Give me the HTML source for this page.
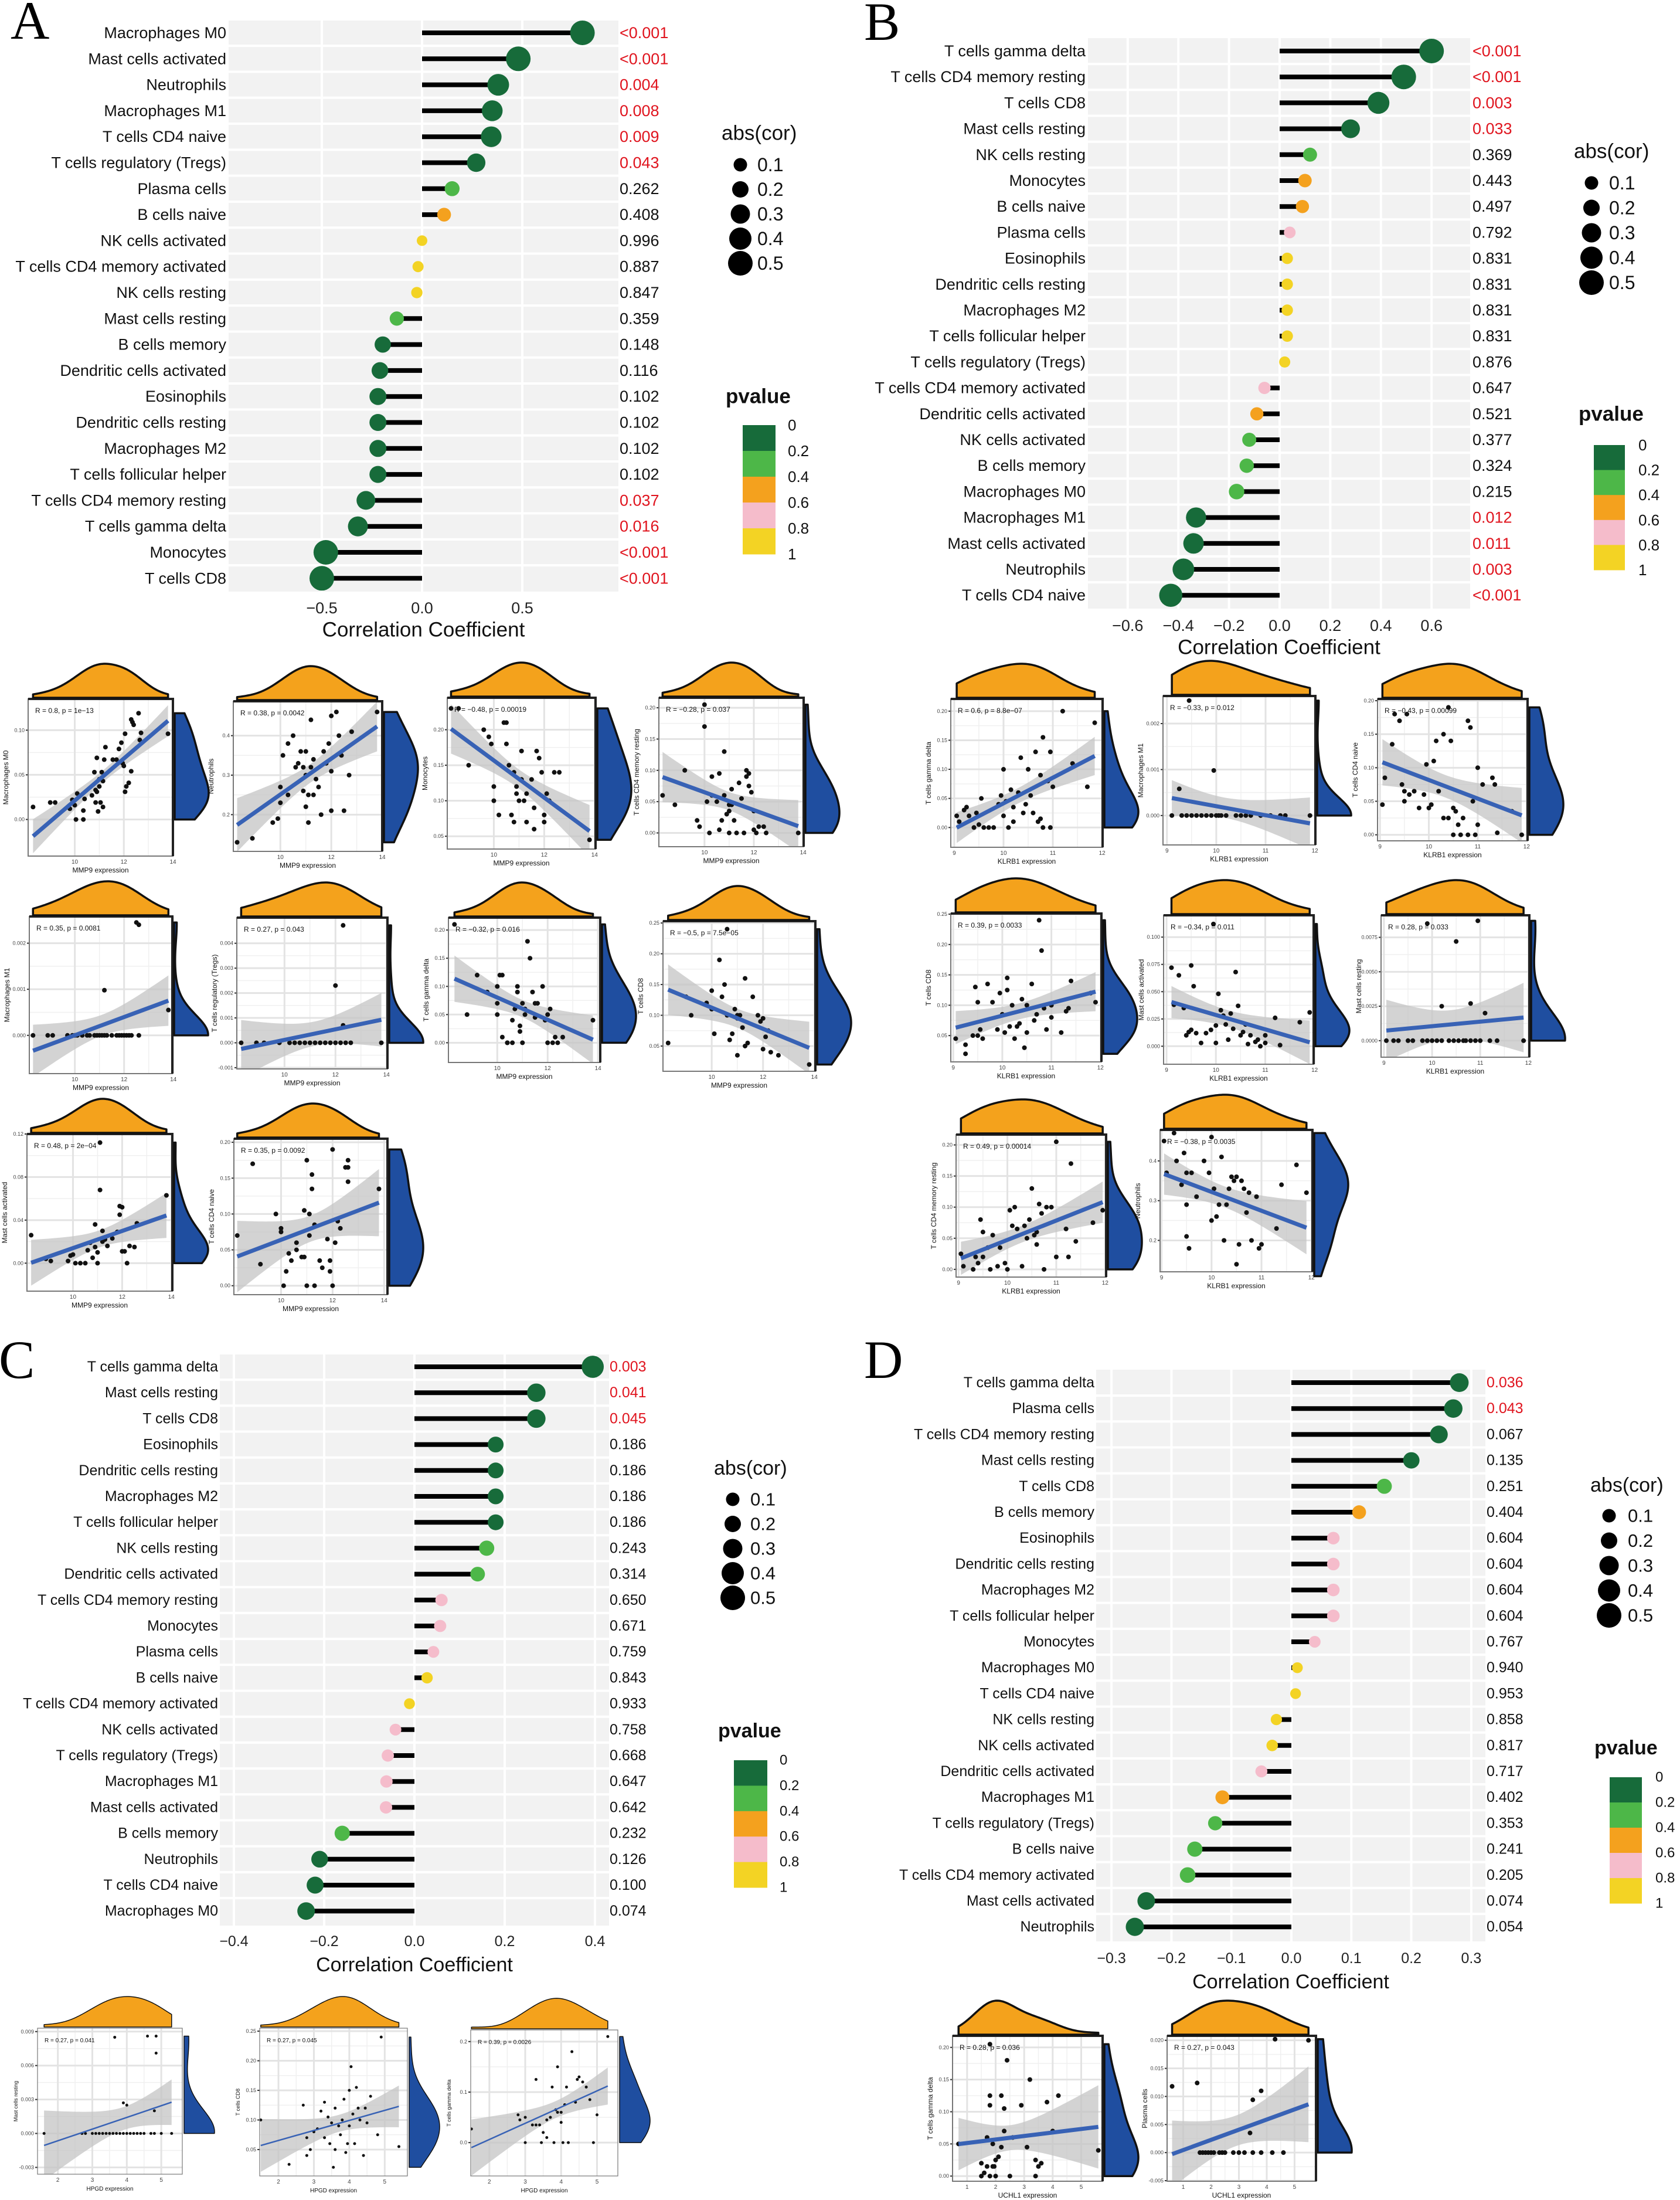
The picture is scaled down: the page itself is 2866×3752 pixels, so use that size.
<!DOCTYPE html>
<html><head><meta charset="utf-8"><style>
html,body{margin:0;padding:0;background:#fff}
svg{display:block}
</style></head><body>
<svg id="fig" xmlns="http://www.w3.org/2000/svg" width="2866" height="3752" viewBox="0 0 2866 3752">
<rect x="0" y="0" width="2866" height="3752" fill="#fff"/>
<text x="18" y="66" font-family="Liberation Serif, serif" font-size="92">A</text>
<text x="1474" y="68" font-family="Liberation Serif, serif" font-size="92">B</text>
<text x="-2" y="2350" font-family="Liberation Serif, serif" font-size="92">C</text>
<text x="1474" y="2350" font-family="Liberation Serif, serif" font-size="92">D</text>
</svg>
<script>
// ---------- lollipop data ----------
const aNames=["Macrophages M0","Mast cells activated","Neutrophils","Macrophages M1","T cells CD4 naive","T cells regulatory (Tregs)","Plasma cells","B cells naive","NK cells activated","T cells CD4 memory activated","NK cells resting","Mast cells resting","B cells memory","Dendritic cells activated","Eosinophils","Dendritic cells resting","Macrophages M2","T cells follicular helper","T cells CD4 memory resting","T cells gamma delta","Monocytes","T cells CD8"];
const aCor=[0.80,0.48,0.38,0.35,0.345,0.27,0.15,0.11,0.0,-0.02,-0.026,-0.126,-0.196,-0.21,-0.22,-0.22,-0.22,-0.22,-0.28,-0.32,-0.48,-0.50];
const aP=["<0.001","<0.001","0.004","0.008","0.009","0.043","0.262","0.408","0.996","0.887","0.847","0.359","0.148","0.116","0.102","0.102","0.102","0.102","0.037","0.016","<0.001","<0.001"];
const aTicks=[-0.5,0,0.5];

const bNames=["T cells gamma delta","T cells CD4 memory resting","T cells CD8","Mast cells resting","NK cells resting","Monocytes","B cells naive","Plasma cells","Eosinophils","Dendritic cells resting","Macrophages M2","T cells follicular helper","T cells regulatory (Tregs)","T cells CD4 memory activated","Dendritic cells activated","NK cells activated","B cells memory","Macrophages M0","Macrophages M1","Mast cells activated","Neutrophils","T cells CD4 naive"];
const bCor=[0.60,0.49,0.39,0.28,0.12,0.10,0.09,0.04,0.03,0.03,0.03,0.03,0.02,-0.06,-0.09,-0.12,-0.13,-0.17,-0.33,-0.34,-0.38,-0.43];
const bP=["<0.001","<0.001","0.003","0.033","0.369","0.443","0.497","0.792","0.831","0.831","0.831","0.831","0.876","0.647","0.521","0.377","0.324","0.215","0.012","0.011","0.003","<0.001"];
const bTicks=[-0.6,-0.4,-0.2,0,0.2,0.4,0.6];

const cNames=["T cells gamma delta","Mast cells resting","T cells CD8","Eosinophils","Dendritic cells resting","Macrophages M2","T cells follicular helper","NK cells resting","Dendritic cells activated","T cells CD4 memory resting","Monocytes","Plasma cells","B cells naive","T cells CD4 memory activated","NK cells activated","T cells regulatory (Tregs)","Macrophages M1","Mast cells activated","B cells memory","Neutrophils","T cells CD4 naive","Macrophages M0"];
const cCor=[0.395,0.27,0.27,0.18,0.18,0.18,0.18,0.16,0.14,0.06,0.057,0.042,0.028,-0.011,-0.042,-0.059,-0.062,-0.063,-0.16,-0.21,-0.22,-0.24];
const cP=["0.003","0.041","0.045","0.186","0.186","0.186","0.186","0.243","0.314","0.650","0.671","0.759","0.843","0.933","0.758","0.668","0.647","0.642","0.232","0.126","0.100","0.074"];
const cTicks=[-0.4,-0.2,0,0.2,0.4];

const dNames=["T cells gamma delta","Plasma cells","T cells CD4 memory resting","Mast cells resting","T cells CD8","B cells memory","Eosinophils","Dendritic cells resting","Macrophages M2","T cells follicular helper","Monocytes","Macrophages M0","T cells CD4 naive","NK cells resting","NK cells activated","Dendritic cells activated","Macrophages M1","T cells regulatory (Tregs)","B cells naive","T cells CD4 memory activated","Mast cells activated","Neutrophils"];
const dCor=[0.28,0.27,0.246,0.20,0.155,0.113,0.07,0.07,0.07,0.07,0.039,0.01,0.007,-0.025,-0.032,-0.05,-0.115,-0.127,-0.161,-0.173,-0.242,-0.261];
const dP=["0.036","0.043","0.067","0.135","0.251","0.404","0.604","0.604","0.604","0.604","0.767","0.940","0.953","0.858","0.817","0.717","0.402","0.353","0.241","0.205","0.074","0.054"];
const dTicks=[-0.3,-0.2,-0.1,0,0.1,0.2,0.3];

const sizeLegendVals=[0.1,0.2,0.3,0.4,0.5];
const pLegendLabels=["0","0.2","0.4","0.6","0.8","1"];

// ---------- scatter data ----------
const ptsA1=[[8.3,.014],[9.0,.019],[9.2,.019],[9.8,.012],[9.9,.022],[10.0,.016],[10.1,.029],[10.05,.0],[10.35,.0],[10.35,.010],[10.4,.023],[10.7,.027],[10.8,.053],[10.85,.019],[10.9,.031],[10.9,.069],[10.95,.009],[11.0,.037],[11.05,.019],[11.1,.053],[11.15,.014],[11.15,.043],[11.2,.067],[11.25,.081],[11.55,.067],[11.7,.067],[11.8,.079],[11.9,.086],[11.95,.063],[12.0,.060],[12.05,.031],[12.1,.037],[12.2,.041],[12.05,.096],[12.3,.054],[12.3,.112],[12.35,.109],[12.4,.106],[12.6,.119],[12.65,.089],[12.7,.097],[13.8,.096],[10.85,.033],[11.0,.045]];
const ptsA2=[[8.3,.13],[8.9,.14],[9.7,.18],[9.9,.19],[10.0,.27],[10.0,.23],[10.1,.35],[10.3,.25],[10.3,.38],[10.5,.40],[10.7,.33],[10.8,.36],[10.9,.32],[10.9,.26],[11.0,.36],[11.0,.22],[11.1,.25],[11.1,.18],[11.2,.32],[11.3,.34],[11.3,.25],[11.5,.27],[11.6,.20],[11.7,.36],[11.8,.33],[11.9,.38],[12.0,.31],[12.0,.45],[12.0,.21],[12.2,.46],[12.3,.40],[12.4,.35],[12.5,.21],[12.7,.30],[11.0,.30],[10.6,.32],[11.4,.29],[12.8,.41],[13.8,.46],[11.2,.44]];
const ptsA3=[[8.3,.23],[8.6,.23],[9.0,.15],[9.6,.20],[9.8,.19],[9.9,.18],[10.0,.12],[10.0,.10],[10.2,.08],[10.4,.21],[10.5,.21],[10.5,.18],[10.6,.15],[10.7,.08],[10.8,.14],[10.8,.07],[10.9,.12],[11.0,.10],[11.1,.17],[11.1,.13],[11.2,.10],[11.3,.07],[11.5,.13],[11.7,.17],[11.8,.16],[11.9,.14],[12.0,.08],[12.0,.07],[12.1,.11],[12.2,.10],[12.4,.14],[12.6,.14],[11.3,.11],[10.9,.11],[11.6,.09],[13.8,.045],[11.6,.06]];
const ptsA4=[[8.3,.06],[8.8,.045],[9.2,.10],[9.7,.02],[9.8,.01],[10.0,.17],[10.1,.05],[10.2,.0],[10.3,.06],[10.3,.09],[10.5,.05],[10.6,.005],[10.7,.02],[10.8,.13],[10.8,.06],[10.9,.03],[11.0,.035],[11.0,.0],[11.1,.07],[11.1,.045],[11.2,.02],[11.3,.0],[11.4,.08],[11.5,.055],[11.6,.0],[11.7,.10],[11.8,.095],[11.8,.075],[11.9,.065],[12.0,.005],[12.0,.035],[12.1,.0],[12.2,.01],[12.4,.01],[12.5,.0],[10.0,.205],[13.8,.0],[11.0,.045],[10.6,.095],[11.7,.09]];
const ptsA5=[[8.3,0],[8.9,0],[9.1,0],[9.7,0],[9.9,0],[10.0,0],[10.1,0],[10.3,0],[10.5,0],[10.6,0],[10.8,0],[10.9,0],[11.0,0],[11.1,0],[11.2,0],[11.3,0],[11.5,0],[11.7,0],[11.8,0],[11.9,0],[12.0,0],[12.1,0],[12.2,0],[12.3,0],[12.6,0],[11.2,.00098],[12.5,.00245],[12.6,.0024],[13.8,.00055]];
const ptsA6=[[8.3,0],[8.9,0],[9.2,0],[9.8,0],[10.2,0],[10.4,0],[10.6,0],[10.8,0],[11.0,0],[11.2,0],[11.4,0],[11.6,0],[11.8,0],[12.0,0],[12.2,0],[12.4,0],[12.6,0],[13.8,0],[12.0,.0023],[12.3,.00472],[12.3,.0007]];
const ptsA7=[[8.3,.21],[8.8,.05],[9.2,.12],[9.6,.09],[10.0,.10],[10.0,.07],[10.0,.05],[10.1,.12],[10.2,.12],[10.2,.01],[10.4,.0],[10.4,.0],[10.6,.0],[10.7,.06],[10.8,.10],[10.8,.09],[10.9,.02],[10.9,.03],[11.0,.07],[11.0,.0],[11.1,.05],[11.2,.18],[11.3,.15],[11.4,.09],[11.5,.07],[11.6,.07],[11.8,.10],[11.9,.04],[12.0,.0],[12.0,.05],[12.1,.06],[12.2,.0],[12.3,.01],[12.4,.0],[12.6,.01],[13.8,.04],[11.1,.06],[10.6,.04],[11.5,.045]];
const ptsA8=[[8.3,.055],[9.0,.13],[9.2,.10],[9.8,.12],[10.0,.14],[10.0,.11],[10.1,.07],[10.3,.19],[10.4,.13],[10.5,.15],[10.6,.10],[10.7,.06],[10.8,.07],[10.9,.11],[11.0,.10],[11.0,.095],[11.1,.10],[11.2,.08],[11.3,.16],[11.3,.05],[11.4,.055],[11.6,.13],[11.8,.10],[11.9,.09],[12.0,.095],[12.0,.045],[12.1,.065],[12.2,.075],[12.3,.04],[12.6,.035],[10.6,.24],[11.0,.035],[13.8,.02]];
const ptsA9=[[8.3,.026],[8.9,.004],[9.1,.002],[9.8,.002],[9.9,.007],[10.0,.008],[10.1,.0],[10.3,.0],[10.5,.0],[10.6,.012],[10.8,.005],[10.9,.015],[10.9,.036],[11.0,.0],[11.0,.010],[11.1,.068],[11.1,.112],[11.2,.03],[11.3,.022],[11.4,.016],[11.6,.023],[11.8,.029],[11.9,.053],[11.9,.045],[12.0,.052],[12.0,.011],[12.1,.011],[12.2,.0],[12.3,.016],[12.5,.015],[12.6,.037],[13.8,.063],[11.2,.02],[10.7,.019]];
const ptsA10=[[8.3,.07],[8.9,.17],[9.2,.03],[9.8,.10],[10.0,.08],[10.0,.075],[10.1,.0],[10.2,.02],[10.3,.045],[10.4,.035],[10.6,.05],[10.8,.04],[10.9,.105],[10.9,.04],[11.0,.0],[11.0,.175],[11.1,.10],[11.2,.155],[11.2,.135],[11.3,.085],[11.3,.0],[11.5,.035],[11.6,.025],[11.8,.065],[11.9,.02],[11.9,.035],[12.0,.0],[12.0,.19],[12.1,.06],[12.2,.09],[12.3,.08],[12.5,.165],[12.6,.165],[12.6,.175],[12.6,.145],[13.8,.135],[11.1,.07],[10.6,.06]];
const ptsB1=[[9.05,.02],[9.1,.01],[9.2,.03],[9.25,.035],[9.3,.02],[9.4,.0],[9.45,.025],[9.5,.005],[9.55,.05],[9.6,.0],[9.7,.0],[9.8,.0],[9.9,.04],[9.95,.055],[10.0,.10],[10.0,.02],[10.05,.045],[10.1,.0],[10.15,.065],[10.2,.035],[10.2,.01],[10.3,.06],[10.35,.12],[10.4,.025],[10.45,.04],[10.5,.10],[10.55,.055],[10.6,.025],[10.65,.13],[10.7,.01],[10.75,.09],[10.8,.155],[10.8,.0],[10.9,.08],[10.95,.13],[11.0,.07],[10.95,.0],[11.2,.20],[11.4,.11],[11.7,.07],[11.85,.18],[10.75,.015]];
const ptsB2=[[9.1,0],[9.3,0],[9.4,0],[9.5,0],[9.6,0],[9.7,0],[9.8,0],[9.9,0],[10.0,0],[10.05,0],[10.1,0],[10.2,0],[10.4,0],[10.5,0],[10.6,0],[10.7,0],[10.9,0],[11.1,0],[11.3,0],[11.4,0],[11.9,0],[9.25,.00058],[9.95,.00098],[9.45,.0025]];
const ptsB3=[[9.05,.045],[9.1,.085],[9.25,.135],[9.3,.18],[9.4,.17],[9.45,.075],[9.5,.065],[9.5,.05],[9.55,.18],[9.6,.06],[9.7,.065],[9.8,.04],[9.9,.06],[9.95,.105],[10.0,.04],[10.05,.045],[10.1,.11],[10.15,.14],[10.2,.065],[10.3,.15],[10.3,.025],[10.4,.19],[10.45,.14],[10.5,.04],[10.5,.0],[10.55,.035],[10.6,.015],[10.65,.0],[10.7,.025],[10.8,.0],[10.8,.17],[10.9,.05],[10.95,.0],[11.0,.10],[11.0,.015],[11.1,.075],[11.3,.085],[11.35,.075],[11.4,.003],[11.7,.035],[11.9,.0],[10.85,.16],[10.4,.025]];
const ptsB4=[[9.05,.045],[9.25,.02],[9.25,.035],[9.4,.05],[9.45,.13],[9.5,.105],[9.5,.05],[9.55,.06],[9.6,.045],[9.7,.135],[9.8,.105],[9.9,.06],[9.95,.12],[10.0,.085],[10.05,.055],[10.1,.145],[10.1,.125],[10.15,.065],[10.2,.10],[10.25,.045],[10.35,.07],[10.4,.11],[10.45,.03],[10.5,.055],[10.5,.10],[10.6,.135],[10.65,.075],[10.7,.085],[10.75,.24],[10.8,.19],[10.85,.095],[10.9,.06],[11.0,.08],[11.0,.10],[11.2,.055],[11.3,.09],[11.4,.14],[11.8,.12],[11.9,.105],[11.35,.095],[10.3,.065]];
const ptsB5=[[9.1,.072],[9.15,.038],[9.25,.065],[9.35,.035],[9.4,.01],[9.45,.013],[9.5,.074],[9.5,.015],[9.55,.055],[9.6,.012],[9.7,.003],[9.8,.012],[9.9,.015],[10.0,.003],[10.0,.019],[10.05,.048],[10.1,.033],[10.15,.028],[10.2,.02],[10.25,.006],[10.3,.03],[10.35,.016],[10.4,.068],[10.45,.037],[10.5,.01],[10.55,.013],[10.6,.02],[10.65,.002],[10.7,.01],[10.8,.004],[10.85,.006],[10.9,.0],[11.0,.003],[11.2,.026],[11.3,.001],[11.7,.022],[11.9,.031],[9.95,.112],[11.0,.01]];
const ptsB6=[[9.05,0],[9.2,0],[9.3,0],[9.5,0],[9.6,0],[9.8,0],[9.9,0],[10.0,0],[10.1,0],[10.2,0],[10.35,0],[10.45,0],[10.55,0],[10.65,0],[10.7,0],[10.8,0],[10.9,0],[11.0,0],[11.2,0],[11.35,0],[11.9,0],[10.2,.0025],[10.5,.0072],[10.8,.0027],[10.95,.0087],[11.1,.002],[9.9,.0085]];
const ptsB7=[[9.05,.025],[9.1,.005],[9.3,.0],[9.35,.02],[9.4,.01],[9.45,.08],[9.5,.06],[9.5,.02],[9.6,.035],[9.65,.0],[9.7,.055],[9.8,.005],[9.85,.035],[9.95,.01],[10.0,.0],[10.05,.095],[10.1,.07],[10.15,.1],[10.2,.065],[10.3,.005],[10.35,.07],[10.4,.05],[10.45,.08],[10.5,.13],[10.55,.055],[10.6,.04],[10.65,.105],[10.7,.09],[10.75,.0],[10.8,.1],[10.9,.1],[11.0,.02],[11.0,.205],[11.2,.065],[11.3,.17],[11.4,.045],[11.75,.075],[11.95,.095],[11.25,.02],[10.6,.06]];
const ptsB8=[[9.05,.45],[9.1,.37],[9.25,.47],[9.3,.40],[9.45,.42],[9.4,.34],[9.5,.37],[9.5,.29],[9.55,.18],[9.5,.21],[9.6,.37],[9.7,.31],[9.85,.40],[9.95,.37],[10.0,.25],[10.05,.33],[10.1,.26],[10.15,.29],[10.2,.41],[10.25,.20],[10.3,.29],[10.4,.36],[10.45,.35],[10.5,.36],[10.5,.14],[10.55,.19],[10.6,.35],[10.65,.33],[10.75,.32],[10.8,.20],[10.9,.31],[10.95,.18],[11.0,.19],[11.2,.11],[11.3,.23],[11.4,.34],[11.7,.39],[11.9,.32],[10.7,.27],[10.35,.33],[10.0,.46]];
const ptsC1=[[1.6,0],[2.7,0],[2.8,0],[3.0,0],[3.1,0],[3.2,0],[3.3,0],[3.4,0],[3.5,0],[3.6,0],[3.7,0],[3.8,0],[3.9,0],[4.0,0],[4.1,0],[4.2,0],[4.3,0],[4.4,0],[4.5,0],[4.7,0],[4.8,0],[5.0,0],[5.3,0],[3.9,.0027],[4.0,.0025],[4.8,.002],[3.65,.0085],[4.6,.0086],[4.85,.0086],[4.85,.0071]];
const ptsC2=[[1.5,.10],[2.7,.125],[2.8,.07],[2.8,.04],[2.9,.05],[3.0,.08],[3.1,.085],[3.2,.115],[3.3,.13],[3.3,.07],[3.4,.105],[3.45,.06],[3.5,.095],[3.6,.12],[3.6,.05],[3.7,.09],[3.75,.075],[3.8,.10],[3.85,.135],[3.9,.045],[3.95,.06],[4.0,.09],[4.0,.15],[4.05,.19],[4.1,.11],[4.15,.06],[4.2,.155],[4.25,.12],[4.3,.10],[4.4,.04],[4.5,.095],[4.6,.14],[4.8,.075],[4.9,.24],[5.4,.055],[2.3,.025],[3.55,.02],[4.45,.12]];
const ptsC3=[[1.5,.027],[2.8,.055],[2.85,.045],[3.0,.05],[3.0,.0],[3.2,.035],[3.3,.125],[3.4,.035],[3.45,.0],[3.5,.02],[3.6,.045],[3.6,.01],[3.7,.05],[3.75,.11],[3.8,.0],[3.85,.065],[3.9,.15],[3.9,.06],[4.0,.04],[4.05,.0],[4.1,.075],[4.15,.11],[4.2,.0],[4.3,.18],[4.4,.08],[4.5,.13],[4.6,.12],[4.7,.11],[4.8,.085],[4.9,.0],[5.0,.055],[5.3,.21],[4.45,.125],[4.0,.06],[3.3,.035]];
const ptsD1=[[0.7,.05],[1.5,.0],[1.5,.02],[1.6,.005],[1.7,.015],[1.7,.06],[1.8,.0],[1.8,.125],[1.8,.11],[1.8,.205],[1.9,.015],[1.95,.015],[2.0,.025],[2.0,.0],[2.1,.03],[2.2,.045],[2.2,.125],[2.3,.07],[2.3,.105],[2.4,.18],[2.5,.0],[2.9,.11],[3.1,.045],[3.2,.15],[3.4,.025],[3.4,.0],[3.5,.015],[3.6,.02],[3.8,.115],[4.0,.07],[4.2,.125],[5.6,.04],[1.9,.05],[2.6,.06]];
const ptsD2=[[1.7,0],[1.8,0],[1.9,0],[2.0,0],[2.1,0],[2.3,0],[2.4,0],[2.5,0],[2.8,0],[3.0,0],[3.2,0],[3.5,0],[3.8,0],[4.2,0],[4.6,0],[1.6,0],[0.6,.0118],[1.5,.0124],[3.5,.0094],[3.8,.011],[4.3,.0202],[5.5,.020],[3.4,.0035]];

const NS='http://www.w3.org/2000/svg';
const svg=document.getElementById('fig');
function mk(tag,attrs,parent){const e=document.createElementNS(NS,tag);for(const k in attrs)e.setAttribute(k,attrs[k]);(parent||svg).appendChild(e);return e;}
function pNum(s){return s.charAt(0)==='<'?0.0005:parseFloat(s);}
function pColor(p){if(p<0.2)return '#176b3a';if(p<0.4)return '#4db748';if(p<0.6)return '#f4a11e';if(p<0.8)return '#f5bccb';return '#f3d324';}
function dotR(a){return Math.min(21,9+25*Math.abs(a));}
function fmtTick(v,dec){const s=Math.abs(v).toFixed(dec);return (v<-1e-9?'\u2212':'')+s;}

function lolli(cfg,names,cors,ps,ticks){
  const g=mk('g',{});
  
  
  const xs=v=>cfg.zero+v*cfg.unit;
  const bg=mk('rect',{x:cfg.L,y:cfg.T,width:cfg.R-cfg.L,height:cfg.B-cfg.T,fill:'#f2f2f2'},g);
  
  
  ticks.forEach(t=>{
    const gl=mk('line',{x1:xs(t),x2:xs(t),y1:cfg.T,y2:cfg.B,stroke:'#fff','stroke-width':4},g);
    
    
    const tl=mk('text',{x:xs(t),y:cfg.tickY,'text-anchor':'middle','dominant-baseline':'central','font-size':cfg.fs,fill:'#222','font-family':cfg.font},g);
    tl.textContent=fmtTick(t,cfg.dec);
    
    
  });
  for(let i=1;i<names.length;i++){
    const y=cfg.row0+(i-0.5)*cfg.sp;
    const hl=mk('line',{x1:cfg.L,x2:cfg.R,y1:y,y2:y,stroke:'#fff','stroke-width':4},g);
    
    
  }
  names.forEach((n,i)=>{
    const y=cfg.row0+i*cfg.sp;
    const lab=mk('text',{x:cfg.labR,y:y,'text-anchor':'end','dominant-baseline':'central','font-size':cfg.fs,fill:'#111','font-family':cfg.font},g);
    lab.textContent=n;
    
    
    const seg=mk('line',{x1:xs(0),x2:xs(cors[i]),y1:y,y2:y,stroke:'#000','stroke-width':8},g);
    
    
    const p=pNum(ps[i]);
    const dot=mk('circle',{cx:xs(cors[i]),cy:y,r:dotR(cors[i]),fill:pColor(p)},g);
    
    
    const pt=mk('text',{x:cfg.pX,y:y,'dominant-baseline':'central','font-size':cfg.fs,fill:p<0.05?'#e0141e':'#111','font-family':cfg.font},g);
    pt.textContent=ps[i];
    
    
  });
  const title=mk('text',{x:(cfg.L+cfg.R)/2,y:cfg.titleY,'text-anchor':'middle','dominant-baseline':'central','font-size':cfg.tfs,fill:'#111','font-family':cfg.font},g);
  title.textContent='Correlation Coefficient';
  
  
  const lt=mk('text',{x:cfg.lgX,y:cfg.lgY,'dominant-baseline':'central','font-size':cfg.tfs,fill:'#111','font-family':cfg.font},g);
  lt.textContent='abs(cor)';
  
  
  sizeLegendVals.forEach((v,i)=>{
    const y=cfg.lgY0+i*cfg.lgSp;
    const c=mk('circle',{cx:cfg.lgDot,cy:y,r:dotR(v),fill:'#000'},g);
    
    
    const t=mk('text',{x:cfg.lgLab,y:y,'dominant-baseline':'central','font-size':cfg.lfs,fill:'#111','font-family':cfg.font},g);
    t.textContent=v.toFixed(1);
    
    
  });
  const pt=mk('text',{x:cfg.pgX,y:cfg.pgY,'dominant-baseline':'central','font-size':cfg.tfs,'font-weight':'bold',fill:'#111','font-family':cfg.font},g);
  pt.textContent='pvalue';
  
  
  const cols=['#176b3a','#4db748','#f4a11e','#f5bccb','#f3d324'];
  const h=(cfg.barB-cfg.barT)/5;
  cols.forEach((c,i)=>{
    const r=mk('rect',{x:cfg.barL,y:cfg.barT+i*h,width:cfg.barW,height:h+0.5,fill:c},g);
    
    
  });
  pLegendLabels.forEach((s,i)=>{
    const t=mk('text',{x:cfg.barLab,y:cfg.barT+i*h,'dominant-baseline':'central','font-size':cfg.bfs,fill:'#111','font-family':cfg.font},g);
    t.textContent=s;
    
    
  });
}

const NARROW='"Liberation Sans Narrow","Liberation Sans",sans-serif';
const SANS='"Liberation Sans",sans-serif';
lolli({name:'panel-a-lollipop',L:390,R:1055,T:35,B:1009,row0:56,sp:44.3,zero:720,unit:342,dec:1,tickY:1037,titleY:1074,pX:1057,labR:386,font:NARROW,fs:27,tfs:35,lfs:32,bfs:26,
  lgX:1231,lgY:227,lgDot:1263,lgLab:1292,lgY0:281,lgSp:42,pgX:1238,pgY:676,barL:1267,barW:56,barT:725,barB:945,barLab:1344},aNames,aCor,aP,aTicks);
lolli({name:'panel-b-lollipop',L:1856,R:2508,T:65,B:1038,row0:87,sp:44.2,zero:2183,unit:432,dec:1,tickY:1067,titleY:1104,pX:2512,labR:1852,font:NARROW,fs:27,tfs:35,lfs:32,bfs:26,
  lgX:2685,lgY:258,lgDot:2715,lgLab:2745,lgY0:312,lgSp:42.5,pgX:2693,pgY:706,barL:2719,barW:53,barT:759,barB:972,barLab:2795},bNames,bCor,bP,bTicks);
lolli({name:'panel-c-lollipop',L:375,R:1039,T:2310,B:3284,row0:2331,sp:44.2,zero:707,unit:770,dec:1,tickY:3311,titleY:3351,pX:1040,labR:372,font:SANS,fs:25,tfs:34,lfs:31,bfs:24,
  lgX:1218,lgY:2504,lgDot:1250,lgLab:1280,lgY0:2557,lgSp:42,pgX:1225,pgY:2952,barL:1252,barW:57,barT:3002,barB:3219,barLab:1330},cNames,cCor,cP,cTicks);
lolli({name:'panel-d-lollipop',L:1870,R:2534,T:2336,B:3311,row0:2358,sp:44.2,zero:2203,unit:1023,dec:1,tickY:3340,titleY:3380,pX:2536,labR:1867,font:SANS,fs:25,tfs:34,lfs:31,bfs:24,
  lgX:2713,lgY:2533,lgDot:2745,lgLab:2777,lgY0:2585,lgSp:42.5,pgX:2720,pgY:2981,barL:2746,barW:55,barT:3031,barB:3246,barLab:2824},dNames,dCor,dP,dTicks);

// ---------- scatter ----------
let clipId=0;
function kde(vals,lo,hi,n){
  const m=vals.reduce((a,b)=>a+b,0)/vals.length;
  const sd=Math.sqrt(vals.reduce((a,b)=>a+(b-m)*(b-m),0)/(vals.length-1))||1e-9;
  const bw=1.06*sd*Math.pow(vals.length,-0.2)*1.25;
  const out=[];
  for(let i=0;i<=n;i++){const x=lo+(hi-lo)*i/n;let s=0;vals.forEach(v=>{const z=(x-v)/bw;s+=Math.exp(-0.5*z*z);});out.push([x,s]);}
  return out;
}
function scatter(c){
  const g=mk('g',{});
  
  
  const thick=c.style!=='thin';
  const sx=v=>c.x0+(v-c.xlim[0])/(c.xlim[1]-c.xlim[0])*(c.x1-c.x0);
  const sy=v=>c.y1-(v-c.ylim[0])/(c.ylim[1]-c.ylim[0])*(c.y1-c.y0);
  const box=mk('rect',{x:c.x0,y:c.y0,width:c.x1-c.x0,height:c.y1-c.y0,fill:'#fff'},g);
  
  
  const minorX=[],minorY=[];
  for(let i=0;i<c.xticks.length-1;i++)minorX.push((c.xticks[i]+c.xticks[i+1])/2);
  for(let i=0;i<c.yticks.length-1;i++)minorY.push((c.yticks[i]+c.yticks[i+1])/2);
  minorX.forEach(v=>{const l=mk('line',{x1:sx(v),x2:sx(v),y1:c.y0,y2:c.y1,stroke:'#f0f0f0','stroke-width':1.5},g);});
  minorY.forEach(v=>{const l=mk('line',{x1:c.x0,x2:c.x1,y1:sy(v),y2:sy(v),stroke:'#f0f0f0','stroke-width':1.5},g);});
  c.xticks.forEach(v=>{
    const l=mk('line',{x1:sx(v),x2:sx(v),y1:c.y0,y2:c.y1,stroke:'#e3e3e3','stroke-width':3},g);
    
    
    const t=mk('text',{x:sx(v),y:c.y1+13,'text-anchor':'middle','font-size':10,fill:'#444','font-family':SANS},g);
    t.textContent=String(v);
    
    
  });
  c.yticks.forEach(v=>{
    const l=mk('line',{x1:c.x0,x2:c.x1,y1:sy(v),y2:sy(v),stroke:'#e3e3e3','stroke-width':3},g);
    
    
    const tk=mk('line',{x1:c.x0-4,x2:c.x0,y1:sy(v),y2:sy(v),stroke:'#333','stroke-width':2},g);
    
    
    const t=mk('text',{x:c.x0-6,y:sy(v),'text-anchor':'end','dominant-baseline':'central','font-size':9,fill:'#444','font-family':SANS},g);
    t.textContent=c.ydec!=null?v.toFixed(c.ydec):String(v);
    
    
  });
  const cid='clip'+(clipId++);
  const cp=mk('clipPath',{id:cid},g);
  mk('rect',{x:c.x0,y:c.y0,width:c.x1-c.x0,height:c.y1-c.y0},cp);
  const inner=mk('g',{'clip-path':'url(#'+cid+')'},g);
  const X=c.pts.map(p=>p[0]),Y=c.pts.map(p=>p[1]),n=X.length;
  const mx=X.reduce((a,b)=>a+b,0)/n,my=Y.reduce((a,b)=>a+b,0)/n;
  let sxx=0,sxy=0;X.forEach((x,i)=>{sxx+=(x-mx)*(x-mx);sxy+=(x-mx)*(Y[i]-my);});
  const b=sxy/sxx,a=my-b*mx;
  let sse=0;X.forEach((x,i)=>{const r=Y[i]-(a+b*x);sse+=r*r;});
  const s=Math.sqrt(sse/(n-2));
  const xmin=Math.min(...X),xmax=Math.max(...X);
  const up=[],dn=[];
  for(let i=0;i<=40;i++){const x=xmin+(xmax-xmin)*i/40;const se=2.01*s*Math.sqrt(1/n+(x-mx)*(x-mx)/sxx);up.push(sx(x)+','+sy(a+b*x+se));dn.unshift(sx(x)+','+sy(a+b*x-se));}
  const rib=mk('polygon',{points:up.concat(dn).join(' '),fill:'#c4c4c4','fill-opacity':0.75},inner);
  
  
  c.pts.forEach(p=>{
    const d=mk('circle',{cx:sx(p[0]),cy:sy(p[1]),r:thick?4:2.5,fill:'#111'},inner);
    
    
  });
  const fl=mk('line',{x1:sx(xmin),y1:sy(a+b*xmin),x2:sx(xmax),y2:sy(a+b*xmax),stroke:'#3862b5','stroke-width':thick?7:2.5},inner);
  
  
  const br=mk('rect',{x:c.x0,y:c.y0,width:c.x1-c.x0,height:c.y1-c.y0,fill:'none',stroke:'#777','stroke-width':thick?2:1.2},g);
  
  
  if(thick){
    const tb=mk('path',{d:'M'+c.x0+' '+c.y0+'H'+c.x1+'V'+c.y1,fill:'none',stroke:'#222','stroke-width':4},g);
    
    
  }
  const an=mk('text',{x:c.x0+12,y:c.y0+24,'font-size':thick?12:10,fill:'#111','font-family':SANS},g);
  an.textContent=c.ann;
  
  
  const xl=mk('text',{x:(c.x0+c.x1)/2,y:c.y1+28,'text-anchor':'middle','font-size':thick?12:10,fill:'#111','font-family':SANS},g);
  xl.textContent=c.xlab;
  
  
  const yx=c.x0-34,yy=(c.y0+c.y1)/2;
  const yl=mk('text',{x:yx,y:yy,'text-anchor':'middle','font-size':thick?12:9,fill:'#111','font-family':SANS,transform:'rotate(-90 '+yx+' '+yy+')'},g);
  yl.textContent=c.ylab;
  
  
  const H=thick?58:52;
  const kx=kde(X,xmin,xmax,80),mkx=Math.max(...kx.map(p=>p[1]));
  let d='M'+sx(xmin)+' '+(c.y0-2);
  kx.forEach(p=>{d+=' L'+sx(p[0])+' '+(c.y0-2-p[1]/mkx*H);});
  d+=' L'+sx(xmax)+' '+(c.y0-2)+' Z';
  const td=mk('path',{d:d,fill:'#f4a21c',stroke:'#111','stroke-width':thick?3.5:1.5,'stroke-linejoin':'round'},g);
  
  
  const ymin=Math.min(...Y),ymax=Math.max(...Y);
  const ky=kde(Y,ymin,ymax,80),mky=Math.max(...ky.map(p=>p[1]));
  let d2='M'+(c.x1+3)+' '+sy(ymin);
  ky.forEach(p=>{d2+=' L'+(c.x1+3+p[1]/mky*H)+' '+sy(p[0]);});
  d2+=' L'+(c.x1+3)+' '+sy(ymax)+' Z';
  const rd=mk('path',{d:d2,fill:'#1f4ea0',stroke:'#111','stroke-width':thick?3.5:1.5,'stroke-linejoin':'round'},g);
  
  
}

const MM='MMP9 expression',KL='KLRB1 expression';
const mx1=[10,12,14],kx1=[9,10,11,12];
const scatterCfgs=[
 {name:'scatter-a-macrophages-m0',x0:48,x1:295,y0:1192,y1:1460,xlim:[8.1,14],ylim:[-0.041,0.135],xticks:mx1,yticks:[0,0.05,0.10],ydec:2,pts:ptsA1,xlab:MM,ylab:'Macrophages M0',ann:'R = 0.8, p = 1e\u221213'},
 {name:'scatter-a-neutrophils',x0:398,x1:652,y0:1196,y1:1452,xlim:[8.15,14],ylim:[0.107,0.487],xticks:mx1,yticks:[0.2,0.3,0.4],ydec:1,pts:ptsA2,xlab:MM,ylab:'Neutrophils',ann:'R = 0.38, p = 0.0042'},
 {name:'scatter-a-monocytes',x0:763,x1:1016,y0:1190,y1:1448,xlim:[8.15,14.04],ylim:[0.032,0.245],xticks:mx1,yticks:[0.05,0.10,0.15,0.20],ydec:2,pts:ptsA3,xlab:MM,ylab:'Monocytes',ann:'R = \u22120.48, p = 0.00019'},
 {name:'scatter-a-cd4-memory-resting',x0:1124,x1:1371,y0:1190,y1:1444,xlim:[8.15,14.02],ylim:[-0.022,0.216],xticks:mx1,yticks:[0,0.05,0.10,0.15,0.20],ydec:2,pts:ptsA4,xlab:MM,ylab:'T cells CD4 memory resting',ann:'R = \u22120.28, p = 0.037'},
 {name:'scatter-a-macrophages-m1',x0:50,x1:294,y0:1563,y1:1831,xlim:[8.15,13.96],ylim:[-0.00083,0.00258],xticks:mx1,yticks:[0,0.001,0.002],ydec:3,pts:ptsA5,xlab:MM,ylab:'Macrophages M1',ann:'R = 0.35, p = 0.0081'},
 {name:'scatter-a-tregs',x0:404,x1:661,y0:1565,y1:1823,xlim:[8.13,14.04],ylim:[-0.00105,0.00503],xticks:mx1,yticks:[-0.001,0,0.001,0.002,0.003,0.004],ydec:3,pts:ptsA6,xlab:MM,ylab:'T cells regulatory (Tregs)',ann:'R = 0.27, p = 0.043'},
 {name:'scatter-a-gamma-delta',x0:765,x1:1024,y0:1565,y1:1812,xlim:[8.06,14.09],ylim:[-0.035,0.222],xticks:mx1,yticks:[0,0.05,0.10,0.15,0.20],ydec:2,pts:ptsA7,xlab:MM,ylab:'T cells gamma delta',ann:'R = \u22120.32, p = 0.016'},
 {name:'scatter-a-cd8',x0:1131,x1:1391,y0:1571,y1:1827,xlim:[8.1,14.04],ylim:[0.009,0.253],xticks:mx1,yticks:[0.05,0.10,0.15,0.20,0.25],ydec:2,pts:ptsA8,xlab:MM,ylab:'T cells CD8',ann:'R = \u22120.5, p = 7.5e\u221205'},
 {name:'scatter-a-mast-activated',x0:46,x1:294,y0:1934,y1:2202,xlim:[8.13,14.04],ylim:[-0.026,0.12],xticks:mx1,yticks:[0,0.04,0.08,0.12],ydec:2,pts:ptsA9,xlab:MM,ylab:'Mast cells activated',ann:'R = 0.48, p = 2e\u221204'},
 {name:'scatter-a-cd4-naive',x0:399,x1:661,y0:1942,y1:2208,xlim:[8.17,14.13],ylim:[-0.0125,0.205],xticks:mx1,yticks:[0,0.05,0.10,0.15,0.20],ydec:2,pts:ptsA10,xlab:MM,ylab:'T cells CD4 naive',ann:'R = 0.35, p = 0.0092'},
 {name:'scatter-b-gamma-delta',x0:1622,x1:1881,y0:1192,y1:1445,xlim:[8.93,12.01],ylim:[-0.034,0.221],xticks:kx1,yticks:[0,0.05,0.10,0.15,0.20],ydec:2,pts:ptsB1,xlab:KL,ylab:'T cells gamma delta',ann:'R = 0.6, p = 8.8e\u221207'},
 {name:'scatter-b-macrophages-m1',x0:1984,x1:2244,y0:1187,y1:1441,xlim:[8.92,12.01],ylim:[-0.00064,0.0026],xticks:kx1,yticks:[0,0.001,0.002],ydec:3,pts:ptsB2,xlab:KL,ylab:'Macrophages M1',ann:'R = \u22120.33, p = 0.012'},
 {name:'scatter-b-cd4-naive',x0:2350,x1:2606,y0:1192,y1:1434,xlim:[8.95,12.02],ylim:[-0.009,0.2026],xticks:kx1,yticks:[0,0.05,0.10,0.15,0.20],ydec:2,pts:ptsB3,xlab:KL,ylab:'T cells CD4 naive',ann:'R = \u22120.43, p = 0.00099'},
 {name:'scatter-b-cd8',x0:1622,x1:1879,y0:1558,y1:1811,xlim:[8.95,12.02],ylim:[0.0067,0.251],xticks:kx1,yticks:[0.05,0.10,0.15,0.20,0.25],ydec:2,pts:ptsB4,xlab:KL,ylab:'T cells CD8',ann:'R = 0.39, p = 0.0033'},
 {name:'scatter-b-mast-activated',x0:1985,x1:2241,y0:1561,y1:1815,xlim:[8.94,11.98],ylim:[-0.0165,0.12],xticks:kx1,yticks:[0,0.025,0.05,0.075,0.1],ydec:3,pts:ptsB5,xlab:KL,ylab:'Mast cells activated',ann:'R = \u22120.34, p = 0.011'},
 {name:'scatter-b-mast-resting',x0:2356,x1:2609,y0:1561,y1:1803,xlim:[8.94,12.02],ylim:[-0.0012,0.0091],xticks:kx1,yticks:[0,0.0025,0.005,0.0075],ydec:4,pts:ptsB6,xlab:KL,ylab:'Mast cells resting',ann:'R = 0.28, p = 0.033'},
 {name:'scatter-b-cd4-memory-resting',x0:1631,x1:1887,y0:1935,y1:2178,xlim:[8.95,12.02],ylim:[-0.0124,0.2166],xticks:kx1,yticks:[0,0.05,0.10,0.15,0.20],ydec:2,pts:ptsB7,xlab:KL,ylab:'T cells CD4 memory resting',ann:'R = 0.49, p = 0.00014'},
 {name:'scatter-b-neutrophils',x0:1979,x1:2239,y0:1927,y1:2169,xlim:[8.97,12.02],ylim:[0.121,0.478],xticks:kx1,yticks:[0.2,0.3,0.4],ydec:1,pts:ptsB8,xlab:KL,ylab:'Neutrophils',ann:'R = \u22120.38, p = 0.0035'},
 {name:'scatter-c-mast-resting',style:'thin',x0:64,x1:311,y0:3459,y1:3708,xlim:[1.41,5.61],ylim:[-0.0036,0.0093],xticks:[2,3,4,5],yticks:[-0.003,0,0.003,0.006,0.009],ydec:3,pts:ptsC1,xlab:'HPGD expression',ylab:'Mast cells resting',ann:'R = 0.27, p = 0.041'},
 {name:'scatter-c-cd8',style:'thin',x0:443,x1:695,y0:3459,y1:3711,xlim:[1.47,5.64],ylim:[0.0054,0.255],xticks:[2,3,4,5],yticks:[0.05,0.10,0.15,0.20,0.25],ydec:2,pts:ptsC2,xlab:'HPGD expression',ylab:'T cells CD8',ann:'R = 0.27, p = 0.045'},
 {name:'scatter-c-gamma-delta',style:'thin',x0:803,x1:1054,y0:3462,y1:3711,xlim:[1.48,5.58],ylim:[-0.066,0.223],xticks:[2,3,4,5],yticks:[0,0.1,0.2],ydec:1,pts:ptsC3,xlab:'HPGD expression',ylab:'T cells gamma delta',ann:'R = 0.39, p = 0.0026'},
 {name:'scatter-d-gamma-delta',x0:1625,x1:1881,y0:3472,y1:3720,xlim:[0.49,5.75],ylim:[-0.008,0.218],xticks:[1,2,3,4,5],yticks:[0,0.05,0.10,0.15,0.20],ydec:2,pts:ptsD1,xlab:'UCHL1 expression',ylab:'T cells gamma delta',ann:'R = 0.28, p = 0.036'},
 {name:'scatter-d-plasma',x0:1991,x1:2245,y0:3472,y1:3720,xlim:[0.42,5.77],ylim:[-0.0051,0.0208],xticks:[1,2,3,4,5],yticks:[-0.005,0,0.005,0.010,0.015,0.020],ydec:3,pts:ptsD2,xlab:'UCHL1 expression',ylab:'Plasma cells',ann:'R = 0.27, p = 0.043'}
];
scatterCfgs.forEach(scatter);
</script>
</body></html>
